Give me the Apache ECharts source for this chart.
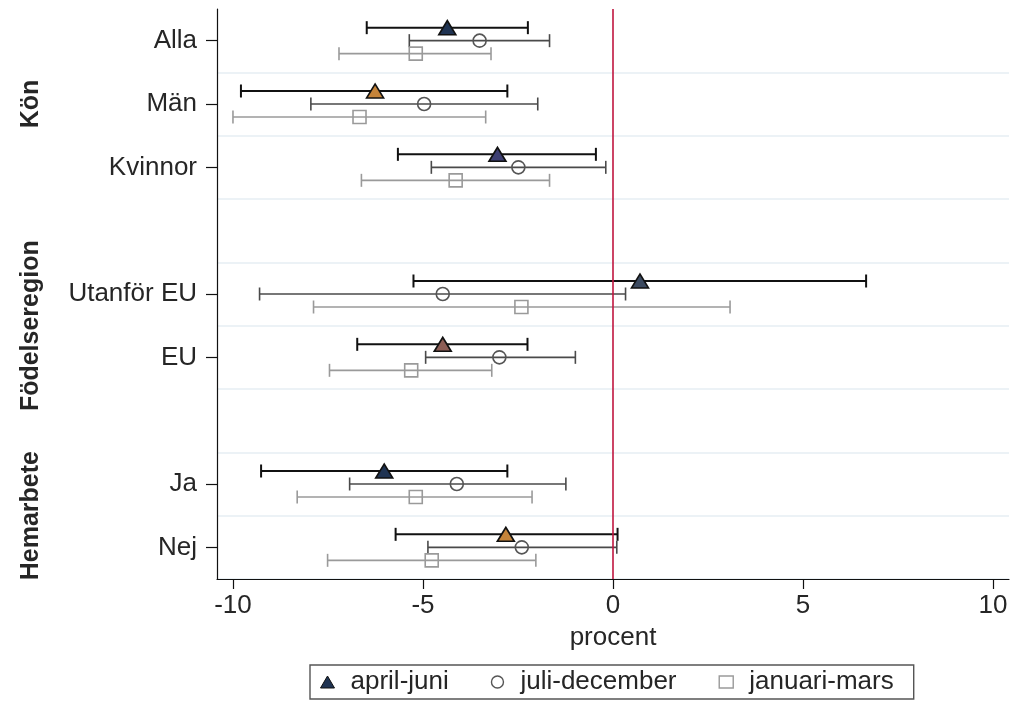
<!DOCTYPE html>
<html>
<head>
<meta charset="utf-8">
<script src="https://cdn.jsdelivr.net/npm/echarts@6/dist/echarts.min.js"></script>
<style>
  html, body { margin: 0; padding: 0; background: #fff; }
  #chart { width: 1011px; height: 713px; }
</style>
</head>
<body>
<div id="chart"></div>
<script>
// Rows of the coefficient plot (blank strings are spacer rows between groups)
const rows = ['Alla', 'Män', 'Kvinnor', '', 'Utanför EU', 'EU', '', 'Ja', 'Nej'];
// Group titles with the first and last row index they cover
const groupNames = ['Kön', 'Födelseregion', 'Hemarbete'];
const groupFirst = [0, 4, 7];
const groupLast = [2, 5, 8];

const xTicks = [-10, -5, 0, 5, 10];
const periods = ['april-juni', 'juli-december', 'januari-mars'];

// Estimates and 95% confidence limits, in procent
const aprilJuniEst = [-4.36, -6.26, -3.04, null, 0.71, -4.48, null, -6.02, -2.82];
const aprilJuniLo  = [-6.48, -9.79, -5.66, null, -5.25, -6.73, null, -9.26, -5.72];
const aprilJuniHi  = [-2.24, -2.78, -0.45, null, 6.66, -2.25, null, -2.78, 0.12];

const juliDecEst = [-3.51, -4.97, -2.49, null, -4.48, -2.99, null, -4.11, -2.40];
const juliDecLo  = [-5.36, -7.95, -4.78, null, -9.30, -4.93, null, -6.93, -4.87];
const juliDecHi  = [-1.67, -1.98, -0.19, null, 0.33, -0.99, null, -1.24, 0.10];

const janMarsEst = [-5.19, -6.67, -4.14, null, -2.41, -5.31, null, -5.19, -4.77];
const janMarsLo  = [-7.21, -10.0, -6.62, null, -7.88, -7.46, null, -8.31, -7.51];
const janMarsHi  = [-3.21, -3.35, -1.67, null, 3.08, -3.19, null, -2.13, -2.03];

// ---- styling ----
const FONT = 'Liberation Sans, Arial, sans-serif';
const FS = 26;
const TEXT = '#262626';
const triangleFill = ['#1f3352', '#c5843a', '#3d3f73', null, '#3c4a60', '#8c5d55', null, '#1f3352', '#c5843a'];

const seriesStyle = [
  { est: aprilJuniEst, lo: aprilJuniLo, hi: aprilJuniHi, offset: -13, line: '#111111', width: 2,
    symbol: 'triangle', size: [17, 14], fill: '#1f3352', edge: '#111111' },
  { est: juliDecEst, lo: juliDecLo, hi: juliDecHi, offset: 0, line: '#4a4a4a', width: 1.6,
    symbol: 'circle', size: 13, fill: 'rgba(0,0,0,0)', edge: '#555555' },
  { est: janMarsEst, lo: janMarsLo, hi: janMarsHi, offset: 13, line: '#9a9a9a', width: 1.6,
    symbol: 'rect', size: 13, fill: 'rgba(0,0,0,0)', edge: '#9a9a9a' }
];

function barData(s) {
  const out = [];
  s.est.forEach((v, i) => { if (v !== null) out.push([s.lo[i], s.hi[i], i]); });
  return out;
}
function pointData(s, k) {
  const out = [];
  s.est.forEach((v, i) => {
    if (v === null) return;
    const item = { value: [v, i] };
    if (k === 0) item.itemStyle = { color: triangleFill[i] };
    out.push(item);
  });
  return out;
}

const series = [];
seriesStyle.forEach((s, k) => {
  // horizontal confidence interval with end caps
  series.push({
    type: 'custom',
    name: periods[k],
    z: 2,
    silent: true,
    data: barData(s),
    encode: { x: [0, 1], y: 2 },
    renderItem: function (params, api) {
      const a = api.coord([api.value(0), api.value(2)]);
      const b = api.coord([api.value(1), api.value(2)]);
      const y = a[1] + s.offset;
      const cap = 6.5;
      const st = { stroke: s.line, lineWidth: s.width };
      return {
        type: 'group',
        children: [
          { type: 'line', shape: { x1: a[0], y1: y, x2: b[0], y2: y }, style: st },
          { type: 'line', shape: { x1: a[0], y1: y - cap, x2: a[0], y2: y + cap }, style: st },
          { type: 'line', shape: { x1: b[0], y1: y - cap, x2: b[0], y2: y + cap }, style: st }
        ]
      };
    }
  });
  // point estimates
  const sc = {
    type: 'scatter',
    name: periods[k],
    z: 5,
    symbol: s.symbol,
    symbolSize: s.size,
    symbolOffset: [0, s.offset],
    itemStyle: { color: s.fill, borderColor: s.edge, borderWidth: 1.6, opacity: 1 },
    data: pointData(s, k)
  };
  if (k === 0) {
    sc.markLine = {
      silent: true,
      symbol: 'none',
      label: { show: false },
      lineStyle: { color: '#c0163f', width: 1.6, type: 'solid' },
      data: [{ xAxis: 0 }]
    };
  }
  series.push(sc);
});

const chart = echarts.init(document.getElementById('chart'), null, { renderer: 'canvas' });
chart.setOption({
  animation: false,
  backgroundColor: '#ffffff',
  textStyle: { fontFamily: FONT },
  grid: { left: 217, right: 2, top: 9, bottom: 134, containLabel: false },
  xAxis: {
    type: 'value',
    min: -10.42,
    max: 10.42,
    name: 'procent',
    nameLocation: 'middle',
    nameGap: 46,
    nameTextStyle: { fontFamily: FONT, fontSize: FS, color: TEXT },
    axisLine: { show: true, lineStyle: { color: '#111', width: 1.2 } },
    axisTick: { show: true, length: 10, customValues: xTicks, lineStyle: { color: '#111', width: 1.2 } },
    axisLabel: { customValues: xTicks, fontFamily: FONT, fontSize: FS, color: TEXT, margin: 14 },
    splitLine: { show: false }
  },
  yAxis: {
    type: 'category',
    inverse: true,
    data: rows,
    boundaryGap: true,
    axisLine: { show: true, onZero: false, lineStyle: { color: '#111', width: 1.2 } },
    axisTick: {
      show: true, length: 11, alignWithLabel: true,
      interval: function (index, value) { return value !== ''; },
      lineStyle: { color: '#111', width: 1.2 }
    },
    axisLabel: { fontFamily: FONT, fontSize: FS, color: TEXT, margin: 20, interval: 0 },
    splitLine: {
      show: true,
      interval: function (index) { return index > 0; },
      lineStyle: { color: '#e6eef3', width: 1.5 }
    }
  },
  legend: {
    data: periods.map((p, k) => ({
      name: p,
      icon: seriesStyle[k].symbol,
      itemStyle: k === 0
        ? { color: '#1f3352', borderColor: '#111', borderWidth: 1 }
        : { color: 'rgba(0,0,0,0)', borderColor: seriesStyle[k].edge, borderWidth: 1.4 }
    })),
    left: 310,
    top: 665,
    orient: 'horizontal',
    itemWidth: 14,
    itemHeight: 12,
    itemGap: 42,
    padding: [4, 20, 4, 10],
    borderColor: '#555',
    borderWidth: 1.4,
    selectedMode: false,
    textStyle: { fontFamily: FONT, fontSize: FS, color: TEXT, padding: [0, 0, 0, 11] }
  },
  series: series
});

// Rotated group titles, centred on the rows that belong to each group
const titles = groupNames.map((g, i) => {
  const y0 = chart.convertToPixel({ yAxisIndex: 0 }, groupFirst[i]);
  const y1 = chart.convertToPixel({ yAxisIndex: 0 }, groupLast[i]);
  return {
    type: 'text',
    x: 31,
    y: (y0 + y1) / 2,
    rotation: Math.PI / 2,
    style: {
      text: g,
      fontFamily: FONT,
      fontSize: 25,
      fontWeight: 'bold',
      fill: TEXT,
      align: 'center',
      verticalAlign: 'middle'
    }
  };
});
chart.setOption({ graphic: titles });
</script>
</body>
</html>
